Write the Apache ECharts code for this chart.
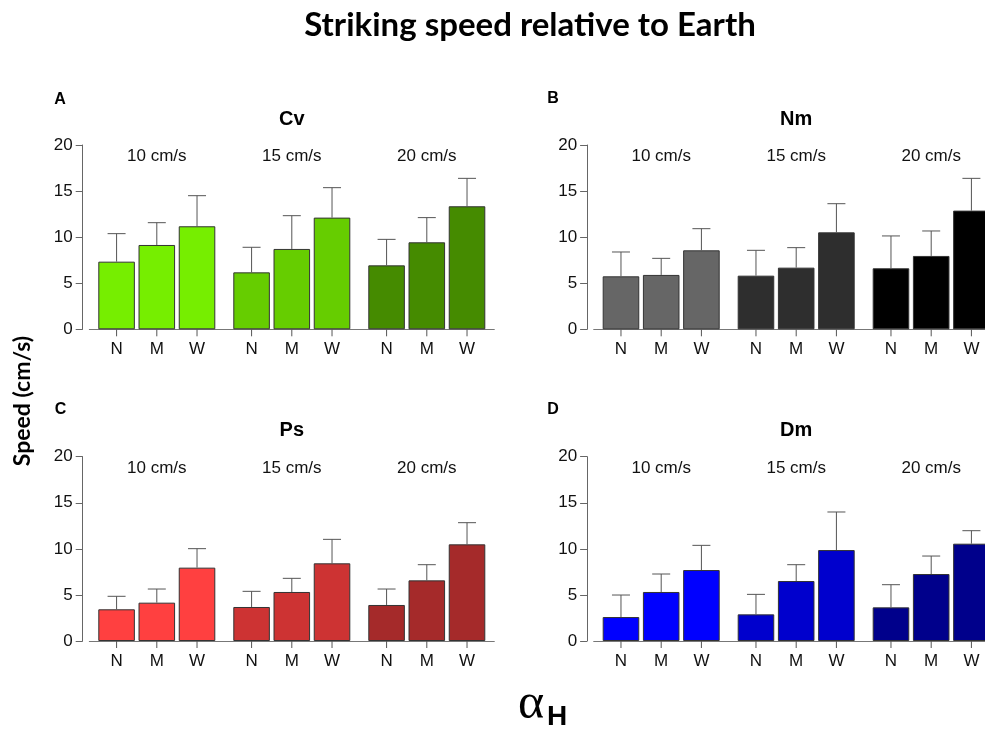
<!DOCTYPE html>
<html>
<head>
<meta charset="utf-8">
<script src="https://cdn.jsdelivr.net/npm/echarts@6.0.0/dist/echarts.min.js"></script>
<style>
  html, body { margin: 0; padding: 0; background: #fff; }
  #main { width: 985px; height: 731px; }
</style>
</head>
<body>
<div id="main"></div>
<script>
// speeds (groups) and body-size classes (bars in each group)
var groups = ['10 cm/s', '15 cm/s', '20 cm/s'];
var sizes = ['N', 'M', 'W'];
var yTicks = [0, 5, 10, 15, 20];

// mean striking speed, rows = N, M, W ; columns = groups
var cvMean = [[7.34, 6.18, 6.94], [9.15, 8.72, 9.44], [11.18, 12.12, 13.35]];
var cvErr  = [[3.04, 2.72, 2.82], [2.42, 3.61, 2.68], [3.32, 3.25, 3.03]];
var nmMean = [[5.75, 5.82, 6.62], [5.90, 6.69, 7.96], [8.57, 10.52, 12.88]];
var nmErr  = [[2.64, 2.75, 3.51], [1.80, 2.17, 2.71], [2.35, 3.11, 3.50]];
var psMean = [[3.44, 3.69, 3.91], [4.16, 5.32, 6.58], [7.96, 8.43, 10.49]];
var psErr  = [[1.41, 1.70, 1.73], [1.48, 1.48, 1.70], [2.06, 2.60, 2.35]];
var dmMean = [[2.60, 2.89, 3.65], [5.32, 6.51, 7.27], [7.70, 9.87, 10.56]];
var dmErr  = [[2.39, 2.17, 2.46], [1.95, 1.77, 1.95], [2.68, 4.13, 1.41]];

// colours per group (speed)
var cvCols = ['#76EE00', '#66CD00', '#458B00'];
var nmCols = ['#666666', '#2E2E2E', '#000000'];
var psCols = ['#FF4040', '#CD3333', '#A52A2A'];
var dmCols = ['#0000FF', '#0000CD', '#00008B'];

var panels = [
  {letter: 'A', name: 'Cv', mean: cvMean, err: cvErr, cols: cvCols, left: 89.3, top: 145, lx: 60, ly: 100},
  {letter: 'B', name: 'Nm', mean: nmMean, err: nmErr, cols: nmCols, left: 593.7, top: 145, lx: 553, ly: 99},
  {letter: 'C', name: 'Ps', mean: psMean, err: psErr, cols: psCols, left: 89.3, top: 456.7, lx: 60.5, ly: 410},
  {letter: 'D', name: 'Dm', mean: dmMean, err: dmErr, cols: dmCols, left: 593.7, top: 456.7, lx: 553, ly: 409.5}
];

var GW = 405, GH = 184.3;
var BAR_GAP = '10%', CAT_GAP = '13.33%';
var FONT = 'Liberation Sans, Arial, sans-serif';

function errRender(params, api) {
  var cat = api.value(0), idx = api.value(1);
  var base = api.coord([cat, 0]);
  var mid = api.coord([cat, api.value(2)]);
  var top = api.coord([cat, api.value(3)]);
  var off;
  var lay = api.barLayout ? api.barLayout({barGap: BAR_GAP, barCategoryGap: CAT_GAP, count: 3}) : null;
  if (lay && lay[idx]) {
    off = lay[idx].offsetCenter;
  } else {
    var bw = api.size([1, 0])[0];
    var cg = bw * 0.1333;
    var w = (bw - cg) / 3.2;
    off = -bw / 2 + cg / 2 + idx * 1.1 * w + w / 2;
  }
  var x = base[0] + off;
  var st = {stroke: '#555', lineWidth: 1};
  return {
    type: 'group',
    children: [
      {type: 'line', shape: {x1: x, y1: mid[1], x2: x, y2: top[1]}, style: st},
      {type: 'line', shape: {x1: x - 9, y1: top[1], x2: x + 9, y2: top[1]}, style: st},
      {type: 'line', shape: {x1: x, y1: base[1], x2: x, y2: base[1] + 7}, style: st}
    ]
  };
}

var grid = [], xAxis = [], yAxis = [], series = [], graphic = [];

panels.forEach(function (p, pi) {
  grid.push({left: p.left, top: p.top, width: GW, height: GH, outerBoundsMode: 'none', containLabel: false});
  xAxis.push({
    type: 'category', gridIndex: pi, data: groups, position: 'bottom',
    axisLine: {show: true, lineStyle: {color: '#777', width: 1}},
    axisTick: {show: false}, axisLabel: {show: false}
  });
  xAxis.push({
    type: 'category', gridIndex: pi, data: groups, position: 'top',
    axisLine: {show: false}, axisTick: {show: false},
    axisLabel: {inside: true, margin: 3, fontSize: 17, color: '#111', fontFamily: FONT}
  });
  yAxis.push({
    type: 'value', gridIndex: pi, min: 0, max: 20, interval: 5, offset: 6.6,
    splitLine: {show: false},
    axisLine: {show: true, lineStyle: {color: '#666', width: 1}},
    axisTick: {show: true, length: 7, lineStyle: {color: '#666'}},
    axisLabel: {fontSize: 17, color: '#111', margin: 10, fontFamily: FONT,
      customValues: yTicks}
  });
  sizes.forEach(function (s, si) {
    series.push({
      type: 'bar', name: s, xAxisIndex: pi * 2, yAxisIndex: pi,
      barGap: BAR_GAP, barCategoryGap: CAT_GAP,
      data: p.mean[si].map(function (v, gi) {
        return {value: v, itemStyle: {color: p.cols[gi]}};
      }),
      itemStyle: {borderColor: '#333', borderWidth: 1},
      label: {show: true, position: 'bottom', distance: 12, formatter: s,
        fontSize: 17, color: '#111', fontFamily: FONT},
      emphasis: {disabled: true},
      animation: false
    });
  });
  var errData = [];
  sizes.forEach(function (s, si) {
    groups.forEach(function (g, gi) {
      errData.push([gi, si, p.mean[si][gi], p.mean[si][gi] + p.err[si][gi]]);
    });
  });
  series.push({
    type: 'custom', xAxisIndex: pi * 2, yAxisIndex: pi, clip: false, z: 5,
    renderItem: errRender, data: errData, encode: {x: 0, y: 3}, animation: false
  });
  graphic.push({
    type: 'text', x: p.left + GW / 2, y: p.top - 26,
    style: {text: p.name, fontSize: 20, fontWeight: 'bold', fontFamily: FONT,
      fill: '#000', textAlign: 'center', textVerticalAlign: 'middle'}
  });
  graphic.push({
    type: 'text', x: p.lx, y: p.ly,
    style: {text: p.letter, fontSize: 16, fontWeight: 'bold', fontFamily: FONT,
      fill: '#000', textAlign: 'center', textVerticalAlign: 'middle'}
  });
});

graphic.push({
  type: 'text', x: 530, y: 25,
  style: {text: 'Striking speed relative to Earth', fontSize: 33, fontWeight: 'bold',
    fontFamily: 'Lato, sans-serif', fill: '#000', textAlign: 'center', textVerticalAlign: 'middle'}
});
graphic.push({
  type: 'text', x: 23, y: 401, rotation: Math.PI / 2,
  style: {text: 'Speed (cm/s)', fontSize: 23, fontWeight: 'bold',
    fontFamily: 'Lato, sans-serif', fill: '#000', textAlign: 'center', textVerticalAlign: 'middle'}
});
graphic.push({
  type: 'text', x: 531, y: 705,
  style: {text: 'α', fontSize: 50, fontFamily: 'Liberation Serif, serif',
    fill: '#000', textAlign: 'center', textVerticalAlign: 'middle'}
});
graphic.push({
  type: 'text', x: 547, y: 717,
  style: {text: 'H', fontSize: 28, fontWeight: 'bold', fontFamily: FONT,
    fill: '#000', textAlign: 'left', textVerticalAlign: 'middle'}
});

var myChart = echarts.init(document.getElementById('main'), null, {renderer: 'canvas'});
myChart.setOption({
  backgroundColor: '#fff',
  animation: false,
  grid: grid,
  xAxis: xAxis,
  yAxis: yAxis,
  series: series,
  graphic: graphic
});
</script>
</body>
</html>
